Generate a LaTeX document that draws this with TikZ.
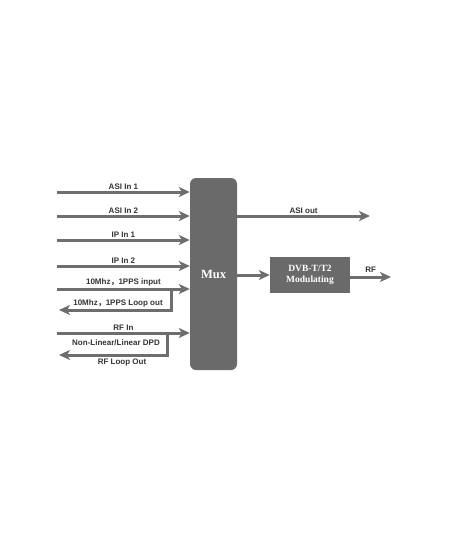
\documentclass[tikz,border=0pt]{standalone}
\usepackage{fontspec}
\setmainfont{Liberation Serif}
\setsansfont{Liberation Sans}
\newfontfamily\cjk{Noto Sans CJK SC}
\usetikzlibrary{arrows.meta}
\definecolor{boxgray}{HTML}{6A6A6A}
\definecolor{linegray}{HTML}{6E6E6E}
\definecolor{txtgray}{HTML}{333333}
\tikzset{sig/.style={draw=linegray,line width=3pt,-{Stealth[length=11pt,width=10pt,inset=3pt]}}}
\tikzset{sig label/.style={font=\sffamily\bfseries\fontsize{8}{9}\selectfont,text=txtgray,inner sep=1pt}}
\tikzset{block/.style={fill=boxgray,draw=none,text=white,font=\rmfamily\bfseries}}
\def\fc{{\cjk ，}}

\begin{document}
\begin{tikzpicture}[x=1pt,y=-1pt]
        \useasboundingbox (0,0) rectangle (450,550);

          %Mux
          \node[block, rounded corners=6pt, minimum width=47pt, minimum height=192pt, font=\rmfamily\bfseries\fontsize{12.5}{14}\selectfont] (mux) at (213.5,274) {Mux};

          %DVB-T/T2
          \node[block, minimum width=80pt, minimum height=36pt, align=center, font=\rmfamily\bfseries\fontsize{9.5}{11.5}\selectfont] (mod) at (310,275) {DVB-T/T2\\Modulating};

          %inputs
          \coordinate (asi1) at (57,192);
          \coordinate (asi2) at (57,216);
          \coordinate (ip1) at (57,240);
          \coordinate (ip2) at (57,266);
          \coordinate (ref) at (57,289);
          \coordinate (rfin) at (57,333);
          \draw[sig] (asi1) -- (asi1 -| mux.west) node[sig label, midway, above] {ASI In 1};
          \draw[sig] (asi2) -- (asi2 -| mux.west) node[sig label, midway, above] {ASI In 2};
          \draw[sig] (ip1) -- (ip1 -| mux.west) node[sig label, midway, above] {IP In 1};
          \draw[sig] (ip2) -- (ip2 -| mux.west) node[sig label, midway, above] {IP In 2};
          \draw[sig] (ref) -- (ref -| mux.west) node[sig label, midway, above] {10Mhz\fc 1PPS input};
          \draw[sig] (rfin) -- (rfin -| mux.west) node[sig label, midway, above] {RF In};

          %loop outs
          \coordinate (reftap) at (171,289);
          \coordinate (refout) at (59,310);
          \draw[sig] (reftap) |- (refout);
          \node[sig label, anchor=south] (refloop) at (118,308) {10Mhz\fc 1PPS Loop out};
          \coordinate (rftap) at (167,333);
          \coordinate (rfout) at (59,355);
          \draw[sig] (rftap) |- (rfout);
          \node[sig label] (dpd) at (116,343) {Non-Linear/Linear DPD};
          \node[sig label, anchor=north] (rfloop) at (122,358) {RF Loop Out};

          %outputs
          \coordinate (asiout) at (370,216);
          \draw[sig] (asiout -| mux.east) -- (asiout) node[sig label, midway, above] {ASI out};
          \draw[sig] (mod.west -| mux.east) -- (mod.west);
          \coordinate (rfend) at (391,277);
          \draw[sig] (rfend -| mod.east) -- (rfend) node[sig label, midway, above=2pt] {RF};

        \end{tikzpicture}
\end{document}
